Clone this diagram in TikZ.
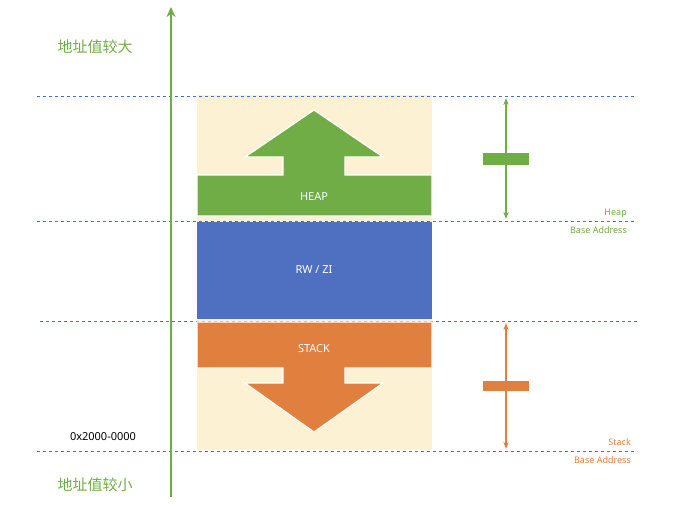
\documentclass[tikz,border=0pt]{standalone}
\usepackage{fontspec}
\setmainfont{Noto Sans}
\newfontfamily\cjk{Noto Sans CJK SC}
\usetikzlibrary{arrows.meta}
\definecolor{gr}{HTML}{70AD47}
\definecolor{bl}{HTML}{4472C4}
\definecolor{rw}{HTML}{4F70C0}
\definecolor{og}{HTML}{E07F3E}
\definecolor{cream}{HTML}{FCF1D2}
\tikzset{dl/.style={bl,dashed,line width=0.8pt},
 blk/.style={draw=white,line width=1.2pt},
 lab/.style={text=white,font=\fontsize{11}{13}\selectfont},
 sz/.style={fill=white,inner sep=2pt,font=\bfseries\fontsize{9}{11}\selectfont},
 ba/.style={font=\bfseries\fontsize{9}{10}\selectfont,inner sep=0pt}}
\begin{document}
\begin{tikzpicture}[x=1pt,y=-1pt]
\useasboundingbox (0,0) rectangle (693,507);
\fill[cream] (197,95) rectangle (432,450);
\draw[dl] (37,96) -- (637,96);
\draw[dl] (37,221) -- (637,221);
\draw[dl] (40,321) -- (637,321);
\draw[dl] (37,451) -- (637,451);
\coordinate (vb) at (171,497); \coordinate (vt) at (171,7);
\draw[gr,line width=2.5pt,-{Stealth[length=10pt,width=9pt]}] (vb) -- (vt);
\node[gr,font=\cjk\fontsize{15}{17}\selectfont] (big) at (95,47) {地址值较大};
\node[gr,font=\cjk\fontsize{15}{17}\selectfont] (small) at (95,485) {地址值较小};
\node[font=\fontsize{11}{13}\selectfont] (addr) at (103,437) {0x2000-0000};
\fill[gr,blk] (197,175) -- (283,175) -- (283,157) -- (245,157) -- (314,110) -- (383,157) -- (345,157) -- (345,175) -- (432,175) -- (432,216) -- (197,216) -- cycle;
\node[lab] (heap) at (314,197) {HEAP};
\fill[rw] (197,222) rectangle (432,319);
\node[lab] (rwzi) at (314,270) {RW / ZI};
\fill[og,blk] (197,322) -- (432,322) -- (432,368) -- (345,368) -- (345,383) -- (383,383) -- (314,432) -- (245,383) -- (283,383) -- (283,368) -- (197,368) -- cycle;
\node[lab] (stack) at (314,349) {STACK};
\coordinate (h1) at (506,98); \coordinate (h2) at (506,219);
\draw[gr,line width=1.5pt,{Stealth[length=7pt]}-{Stealth[length=7pt]}] (h1) -- (h2);
\node[sz,gr] (hs) at (506,159) {Heap Size};
\coordinate (s1) at (506,323); \coordinate (s2) at (506,449);
\draw[og,line width=1.5pt,{Stealth[length=7pt]}-{Stealth[length=7pt]}] (s1) -- (s2);
\node[sz,og] (ss) at (506,386) {Stack Size};
\node[ba,gr,anchor=east] (hb1) at (627,213) {Heap};
\node[ba,gr,anchor=east] (hb2) at (627,230) {Base Address};
\node[ba,og,anchor=east] (sb1) at (631,442) {Stack};
\node[ba,og,anchor=east] (sb2) at (631,460) {Base Address};
\end{tikzpicture}
\end{document}
